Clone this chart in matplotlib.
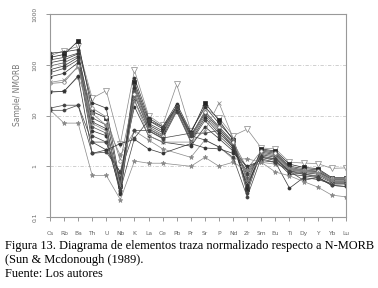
import numpy as np
import matplotlib
matplotlib.use("Agg")
import matplotlib.pyplot as plt

nan = np.nan

elements = ['Cs', 'Rb', 'Ba', 'Th', 'U', 'Nb', 'K', 'La', 'Ce', 'Pb', 'Pr',
            'Sr', 'P', 'Nd', 'Zr', 'Sm', 'Eu', 'Ti', 'Dy', 'Y', 'Yb', 'Lu']

# sample / N-MORB values (estimates)
s1 = [150, 190, 230, 22, 31, 2.8, 78, 10, 6.4, 41, 5.0, 14, 9, 4.0, 5.4, 2.3, 2.2, 1.2, 1.16, 1.13, 0.91, 0.93]
s2 = [140, 160, 295, 12, 9, 0.4, 45, 8, 5.5, 15, 4.5, 17.7, 8, 3.3, 0.35, 2.2, 2.0, 1.1, 0.95, 0.9, 0.6, 0.6]
s3 = [170, 180, 200, 18, 14, 0.45, 55, 9, 6, 17, 4.8, 15, 7, 3.5, 0.5, 2.1, 1.9, 1.0, 0.9, 0.85, 0.58, 0.58]
s4 = [125, 140, 170, 9, 6.5, 0.3, 40, 7, 5, 15, 4.0, 12, 6, 3.0, 0.3, 2.0, 1.8, 0.95, 0.85, 0.8, 0.55, 0.55]
s5 = [110, 125, 165, 7.5, 5.5, 0.33, 35, 6.5, 4.6, 14, 3.8, 11, 5.5, 2.8, 0.4, 1.9, 1.7, 0.9, 0.8, 0.78, 0.55, 0.55]
s6 = [95, 110, 150, 6, 4.5, 0.5, 30, 6, 4.2, 15, 3.5, 10, 5, 2.6, 0.6, 1.8, 1.6, 0.85, 0.78, 0.75, 0.52, 0.52]
s7 = [80, 95, 140, 5, 4, 0.28, 25, 5.5, 3.8, 13, 3.2, 9, 4.5, 2.4, 0.45, 1.7, 1.5, 0.8, 0.75, 0.7, 0.5, 0.5]
s8 = [70, 85, 125, 4, 3, 0.6, 20, 5, 3.5, 12, 3.0, 8, 4, 2.2, 0.7, 1.6, 1.4, 0.75, 0.7, 0.65, 0.48, 0.48]
s9 = [58, 68, 110, 3, 2.1, 0.77, 15, 4, 3, nan, 2.5, 6, 3.5, 2.0, 0.8, 1.5, 1.3, 0.7, 0.65, 0.6, 0.42, 0.4]
s10 = [43, 45, 95, 14, 9.4, 1.3, 27, 5.5, 4, 15, 3.6, 12, 6, 3.0, 0.9, 2.0, 1.8, 0.9, 0.85, 0.8, 0.6, 0.6]
s11 = [30, 30, 58, 11, 6.4, 1.65, 5, 3.3, 2.2, nan, 1.5, 3.3, 2.4, 1.4, 1.4, 1.2, 1.1, 0.9, 0.8, 0.75, 0.55, 0.55]
s12 = [29, 30, 60, 1.8, 2.1, 2.8, 3.4, 2.2, 1.8, nan, 2.8, 2.3, 2.2, 1.8, 1.0, 1.3, 1.2, 0.37, 0.6, 0.55, 0.45, 0.45]
s13 = [14, 16, 16, 1.8, 1.9, 0.77, 5.1, 5.1, 3.6, nan, 4.5, 4.5, 5.1, 2.4, 0.9, 1.4, 1.2, 0.8, 0.53, 0.6, 0.45, 0.45]
s14 = [13, 7.1, 7.1, 0.66, 0.66, 0.22, 1.27, 1.15, 1.15, nan, 1.0, 1.5, 1.0, 1.2, 0.83, 1.2, 0.77, 0.65, 0.5, 0.39, 0.27, 0.25]
s15 = [45, 50, 90, 7, 5, 0.4, 20, 4, 3, nan, 3.0, 5, 17.7, 3.6, 0.5, 1.8, 1.6, 0.9, 0.8, 0.75, 0.5, 0.5]
s16 = [12.7, 12.7, 16, 3, 3, 0.34, 3.6, 8, 6, 15, 4.0, 3.3, 2.4, 1.5, 0.25, 1.5, 1.4, 0.8, 0.7, 0.62, 0.42, 0.4]

samples = [s1, s2, s3, s4, s5, s6, s7, s8, s9, s10, s11, s12, s13, s14, s15, s16]
styles = [
    dict(color='#888888', marker='v', mfc='white', ms=4),
    dict(color='#222222', marker='s', mfc='#222222', ms=3.2),
    dict(color='#333333', marker='o', mfc='#333333', ms=2.2),
    dict(color='#444444', marker='o', mfc='#444444', ms=2.2),
    dict(color='#333333', marker='o', mfc='#333333', ms=2.2),
    dict(color='#555555', marker='o', mfc='#555555', ms=2.2),
    dict(color='#333333', marker='o', mfc='#333333', ms=2.2),
    dict(color='#444444', marker='o', mfc='#444444', ms=2.2),
    dict(color='#333333', marker='o', mfc='#333333', ms=2.2),
    dict(color='#777777', marker='o', mfc='white', ms=2.5),
    dict(color='#888888', marker='*', mfc='#888888', ms=3.5),
    dict(color='#333333', marker='o', mfc='#333333', ms=2.2),
    dict(color='#444444', marker='o', mfc='#444444', ms=2.2),
    dict(color='#888888', marker='*', mfc='#888888', ms=3.5),
    dict(color='#888888', marker='x', mfc='#888888', ms=3),
    dict(color='#444444', marker='o', mfc='#444444', ms=2.2),
]

fig = plt.figure(figsize=(3.78, 2.88), dpi=100)
ax = fig.add_axes([0.132, 0.2465, 0.783, 0.7045])

x = np.arange(len(elements))
for vals, st in zip(samples, styles):
    v = np.array(vals, dtype=float)
    m = ~np.isnan(v)
    ax.plot(x[m], v[m], lw=0.5, mew=0.5, mec=st['color'], **st)

ax.set_yscale('log')
ax.set_ylim(0.1, 1000)
ax.set_xlim(0, len(elements) - 1)
ax.set_yticks([0.1, 1, 10, 100, 1000])
ax.set_yticklabels(['0.1', '1', '10', '100', '1000'], rotation=90, va='center')
ax.yaxis.set_minor_locator(plt.NullLocator())
ax.set_xticks(x)
ax.set_xticklabels(elements)
ax.tick_params(axis='both', labelsize=4.3, colors='#888888', labelcolor='#666666',
               length=3, width=0.6)
ax.tick_params(axis='x', pad=7)
ax.tick_params(axis='y', pad=6)
for s in ax.spines.values():
    s.set_color('#999999')
    s.set_linewidth(0.8)
for yv in [1, 10, 100]:
    ax.axhline(yv, color='#c8c8c8', lw=0.6, ls=(0, (4, 2, 1, 2)), zorder=0)

ax.set_ylabel('Sample/ NMORB', fontsize=5.5, color='#777777')
ax.yaxis.set_label_coords(-0.095, 0.6)

cap = dict(family='Liberation Serif', fontsize=8.95, color='black', va='center', ha='left')
fig.text(0.013, 0.146, 'Figura 13. Diagrama de elementos traza normalizado respecto a N-MORB', **cap)
fig.text(0.013, 0.097, '(Sun & Mcdonough (1989).', **cap)
fig.text(0.013, 0.049, 'Fuente: Los autores', **cap)

fig.savefig('out.png', dpi=100)
